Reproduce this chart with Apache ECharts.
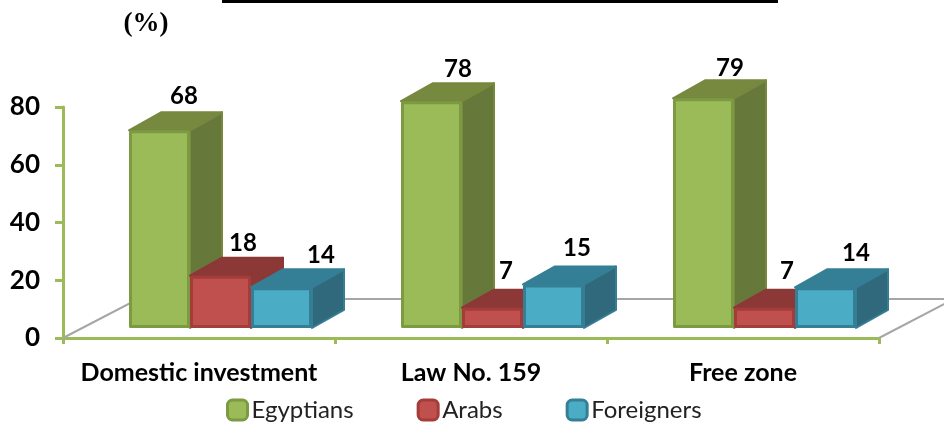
<!DOCTYPE html>
<html>
<head>
<meta charset="utf-8">
<style>html,body{margin:0;padding:0;background:#fff}#c{width:944px;height:425px}</style>
<script src="https://cdn.jsdelivr.net/npm/echarts@6/dist/echarts.min.js"></script>
</head>
<body>
<div id="c"></div>
<script>
const categories = ['Domestic investment', 'Law No. 159', 'Free zone'];
const egyptians = [68, 78, 79];
const arabs = [18, 7, 7];
const foreigners = [14, 15, 14];
const yTicks = [0, 20, 40, 60, 80];

const FONT = 'Lato, "Open Sans", sans-serif';
const seriesStyles = [
  {name: 'Egyptians', front: '#9BBB59', edge: '#7B9A41', top: '#76893F', side: '#67793A',
   nudge: [[0, 0], [2, 2], [2, 4]]},
  {name: 'Arabs', front: '#C0504D', edge: '#A43C39', top: '#8C3836', side: '#8C3836',
   nudge: [[-2, 2], [-11, -2], [-2, -2]]},
  {name: 'Foreigners', front: '#4BACC6', edge: '#357F96', top: '#357F96', side: '#31697C',
   nudge: [[15, 2], [-1, -2], [6, 0]]}
];

const BAR_FRAC = 61 / 272, OFFSET_FRAC = 21.5 / 272;
const DX = 32, DY = 18, BASE_LIFT = 10, SCALE = 1.007;

function barRender(si) {
  const st = seriesStyles[si];
  return function (params, api) {
    const cat = api.value(0), v = api.value(1);
    const band = api.size([1, 0])[0];
    const c0 = api.coord([cat, 0]), cv = api.coord([cat, v]);
    const w = band * BAR_FRAC;
    const x0 = c0[0] + band * OFFSET_FRAC + (si - 1.5) * w;
    const x1 = x0 + w;
    const yb = c0[1] - BASE_LIFT;
    const yt = yb - (c0[1] - cv[1]) * SCALE;
    const n = st.nudge[cat];
    return {
      type: 'group',
      children: [
        {type: 'polygon', shape: {points: [[x1, yb], [x1 + DX, yb - DY], [x1 + DX, yt - DY], [x1, yt]]},
         style: {fill: st.side, stroke: st.top, lineWidth: 2, lineJoin: 'round'}},
        {type: 'polygon', shape: {points: [[x0, yt], [x0 + DX, yt - DY], [x1 + DX, yt - DY], [x1, yt]]},
         style: {fill: st.top, stroke: st.top, lineWidth: 2, lineJoin: 'round'}},
        {type: 'rect', shape: {x: x0 + 1.5, y: yt + 1.5, width: w - 3, height: yb - yt - 3},
         style: {fill: st.front, stroke: st.edge, lineWidth: 3, lineJoin: 'round'}},
        {type: 'text', style: {text: String(v), x: x0 + 55 + n[0], y: yt - 34 + n[1],
          font: 'bold 24px ' + FONT, fill: '#000', align: 'center', verticalAlign: 'middle'}}
      ]
    };
  };
}

function floorRender(params, api) {
  const band = api.size([1, 0])[0];
  const c = api.coord([0, 0]);
  const xl = c[0] - band / 2, y = c[1];
  const xr = xl + band * categories.length;
  const fx = 75, fy = 39;
  return {
    type: 'polyline',
    shape: {points: [[xl, y], [xl + fx, y - fy], [xr + fx, y - fy], [xr, y]]},
    style: {fill: null, stroke: '#A6A6A6', lineWidth: 2}
  };
}

const chart = echarts.init(document.getElementById('c'), null, {renderer: 'canvas'});
chart.setOption({
  animation: false,
  backgroundColor: '#fff',
  graphic: [
    {type: 'rect', shape: {x: 222, y: 0, width: 556, height: 3}, style: {fill: '#000'}},
    {type: 'text', style: {text: '(%)', x: 146, y: 24, font: 'bold 27px "Liberation Serif", serif',
      fill: '#000', align: 'center', verticalAlign: 'middle'}}
  ],
  grid: {left: 63, right: 65, top: 107, bottom: 87, containLabel: false},
  xAxis: {
    type: 'category', data: categories,
    axisLine: {lineStyle: {color: '#9BBB59', width: 3}},
    axisTick: {show: true, interval: 0, length: 6, lineStyle: {color: '#9BBB59', width: 3}},
    axisLabel: {color: '#000', interval: 0, hideOverlap: false, fontWeight: 'bold', fontSize: 25, fontFamily: FONT, margin: 22}
  },
  yAxis: {
    type: 'value', min: 0, max: yTicks[yTicks.length - 1], interval: yTicks[1] - yTicks[0],
    splitLine: {show: false},
    axisLine: {show: true, lineStyle: {color: '#9BBB59', width: 3}},
    axisTick: {show: true, length: 8, lineStyle: {color: '#9BBB59', width: 3}},
    axisLabel: {color: '#000', fontWeight: 'bold', fontSize: 26, fontFamily: FONT, margin: 23}
  },
  legend: {
    data: seriesStyles.map(s => ({
      name: s.name,
      itemStyle: {color: s.front, borderColor: s.edge, borderWidth: 3}
    })),
    left: 221, top: 393, itemWidth: 20, itemHeight: 20, itemGap: 63, icon: 'roundRect',
    textStyle: {color: '#222', fontFamily: FONT, fontSize: 24, padding: [0, 0, 0, -1]},
    selectedMode: false
  },
  series: [
    {type: 'custom', name: 'floor', silent: true, data: [[0, 0]], renderItem: floorRender, z: 1, clip: false,
     encode: {x: 0, y: 1}},
    ...[egyptians, arabs, foreigners].map((vals, si) => ({
      type: 'custom', name: seriesStyles[si].name, silent: true, z: 2 + si, clip: false,
      itemStyle: {color: seriesStyles[si].front},
      data: vals.map((v, i) => [i, v]),
      encode: {x: 0, y: 1},
      renderItem: barRender(si)
    }))
  ]
});
</script>
</body>
</html>
